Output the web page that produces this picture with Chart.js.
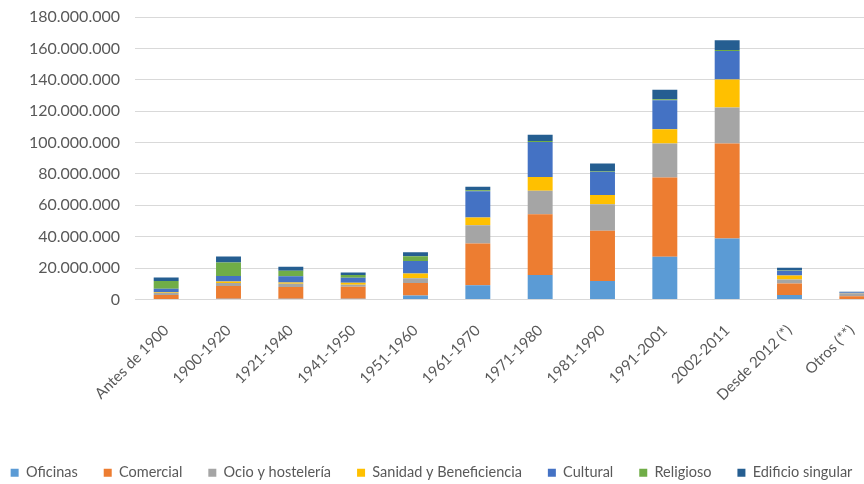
<!DOCTYPE html>
<html>
<head>
<meta charset="utf-8">
<script src="https://cdn.jsdelivr.net/npm/chart.js@4"></script>
<style>
  html, body { margin: 0; padding: 0; background: #fff; overflow: hidden; }
  #wrap { width: 890px; height: 484px; }
</style>
</head>
<body>
<div id="wrap"><canvas id="chart" width="890" height="484"></canvas></div>
<script>
// ===== Data (millones) =====
const categories = ['Antes de 1900', '1900-1920', '1921-1940', '1941-1950', '1951-1960', '1961-1970',
  '1971-1980', '1981-1990', '1991-2001', '2002-2011', 'Desde 2012 (*)', 'Otros (**)'];

const oficinas  = [0.3, 0.5, 0.5, 0.5, 2.5,  9.1, 15.5, 11.7, 27.2, 38.9, 2.8, 0.3];
const comercial = [2.5, 8.0, 7.5, 7.6, 8.0, 26.6, 38.8, 32.0, 50.5, 60.5, 7.4, 1.8];
const ocio      = [1.5, 2.0, 2.0, 1.3, 3.0, 11.6, 14.9, 17.0, 21.7, 22.9, 2.5, 1.8];
const sanidad   = [0.5, 1.0, 0.8, 1.2, 3.0,  4.9,  8.9,  5.8,  9.1, 17.8, 2.6, 0.2];
const cultural  = [2.0, 3.5, 4.0, 3.2, 8.0, 16.8, 22.3, 14.8, 18.5, 18.3, 3.0, 0.3];
const religioso = [5.0, 8.5, 3.5, 1.7, 3.0,  0.6,  0.6,  0.6,  0.6,  0.6, 0.3, 0.1];
const edificio  = [2.2, 3.8, 2.5, 1.7, 2.5,  2.2,  3.9,  4.7,  6.1,  6.2, 1.6, 0.4];

const seriesNames = ['Oficinas', 'Comercial', 'Ocio y hostelería', 'Sanidad y Beneficiencia',
  'Cultural', 'Religioso', 'Edificio singular'];
const seriesData = [oficinas, comercial, ocio, sanidad, cultural, religioso, edificio];
const colors = ['#5B9BD5', '#ED7D31', '#A5A5A5', '#FFC000', '#4472C4', '#70AD47', '#255E91'];

const yTicks = [0, 20, 40, 60, 80, 100, 120, 140, 160, 180];

// ===== Chart =====
const textColor = '#595959';
const family = 'Lato, "Open Sans", sans-serif';

function fmt(v) {
  return String(Math.round(v * 1000000)).replace(/\B(?=(\d{3})+(?!\d))/g, '.');
}

new Chart(document.getElementById('chart'), {
  type: 'bar',
  data: {
    labels: categories,
    datasets: seriesNames.map((name, i) => ({
      label: name,
      data: seriesData[i],
      backgroundColor: colors[i],
      borderWidth: 0,
      barPercentage: 0.4,
      categoryPercentage: 1
    }))
  },
  options: {
    responsive: false,
    animation: false,
    devicePixelRatio: 1,
    // negative left padding keeps the legend centred like the cropped original
    layout: { padding: { top: 17, right: 7, bottom: -6, left: -20 } },
    plugins: {
      tooltip: { enabled: false },
      legend: {
        position: 'bottom',
        title: { display: true, text: '', font: { size: 12 }, padding: { top: 0, bottom: 7 } },
        labels: {
          color: textColor,
          font: { family: family, size: 14.5 },
          boxWidth: 8,
          boxHeight: 8,
          padding: 26
        }
      }
    },
    scales: {
      x: {
        stacked: true,
        grid: { display: false },
        border: { display: false },
        ticks: {
          color: textColor,
          font: { family: family, size: 15 },
          autoSkip: false,
          maxRotation: 45,
          minRotation: 45,
          padding: 14
        }
      },
      y: {
        stacked: true,
        min: 0,
        max: 180,
        afterFit: s => { s.width = 155; s.paddingTop = 0; s.paddingBottom = 0; },
        afterBuildTicks: s => { s.ticks = yTicks.map(v => ({ value: v })); },
        grid: { color: '#D9D9D9', lineWidth: 1, drawTicks: false },
        border: { display: false },
        ticks: {
          color: textColor,
          font: { family: family, size: 16 },
          padding: 15,
          callback: v => fmt(v)
        }
      }
    }
  }
});
</script>
</body>
</html>
